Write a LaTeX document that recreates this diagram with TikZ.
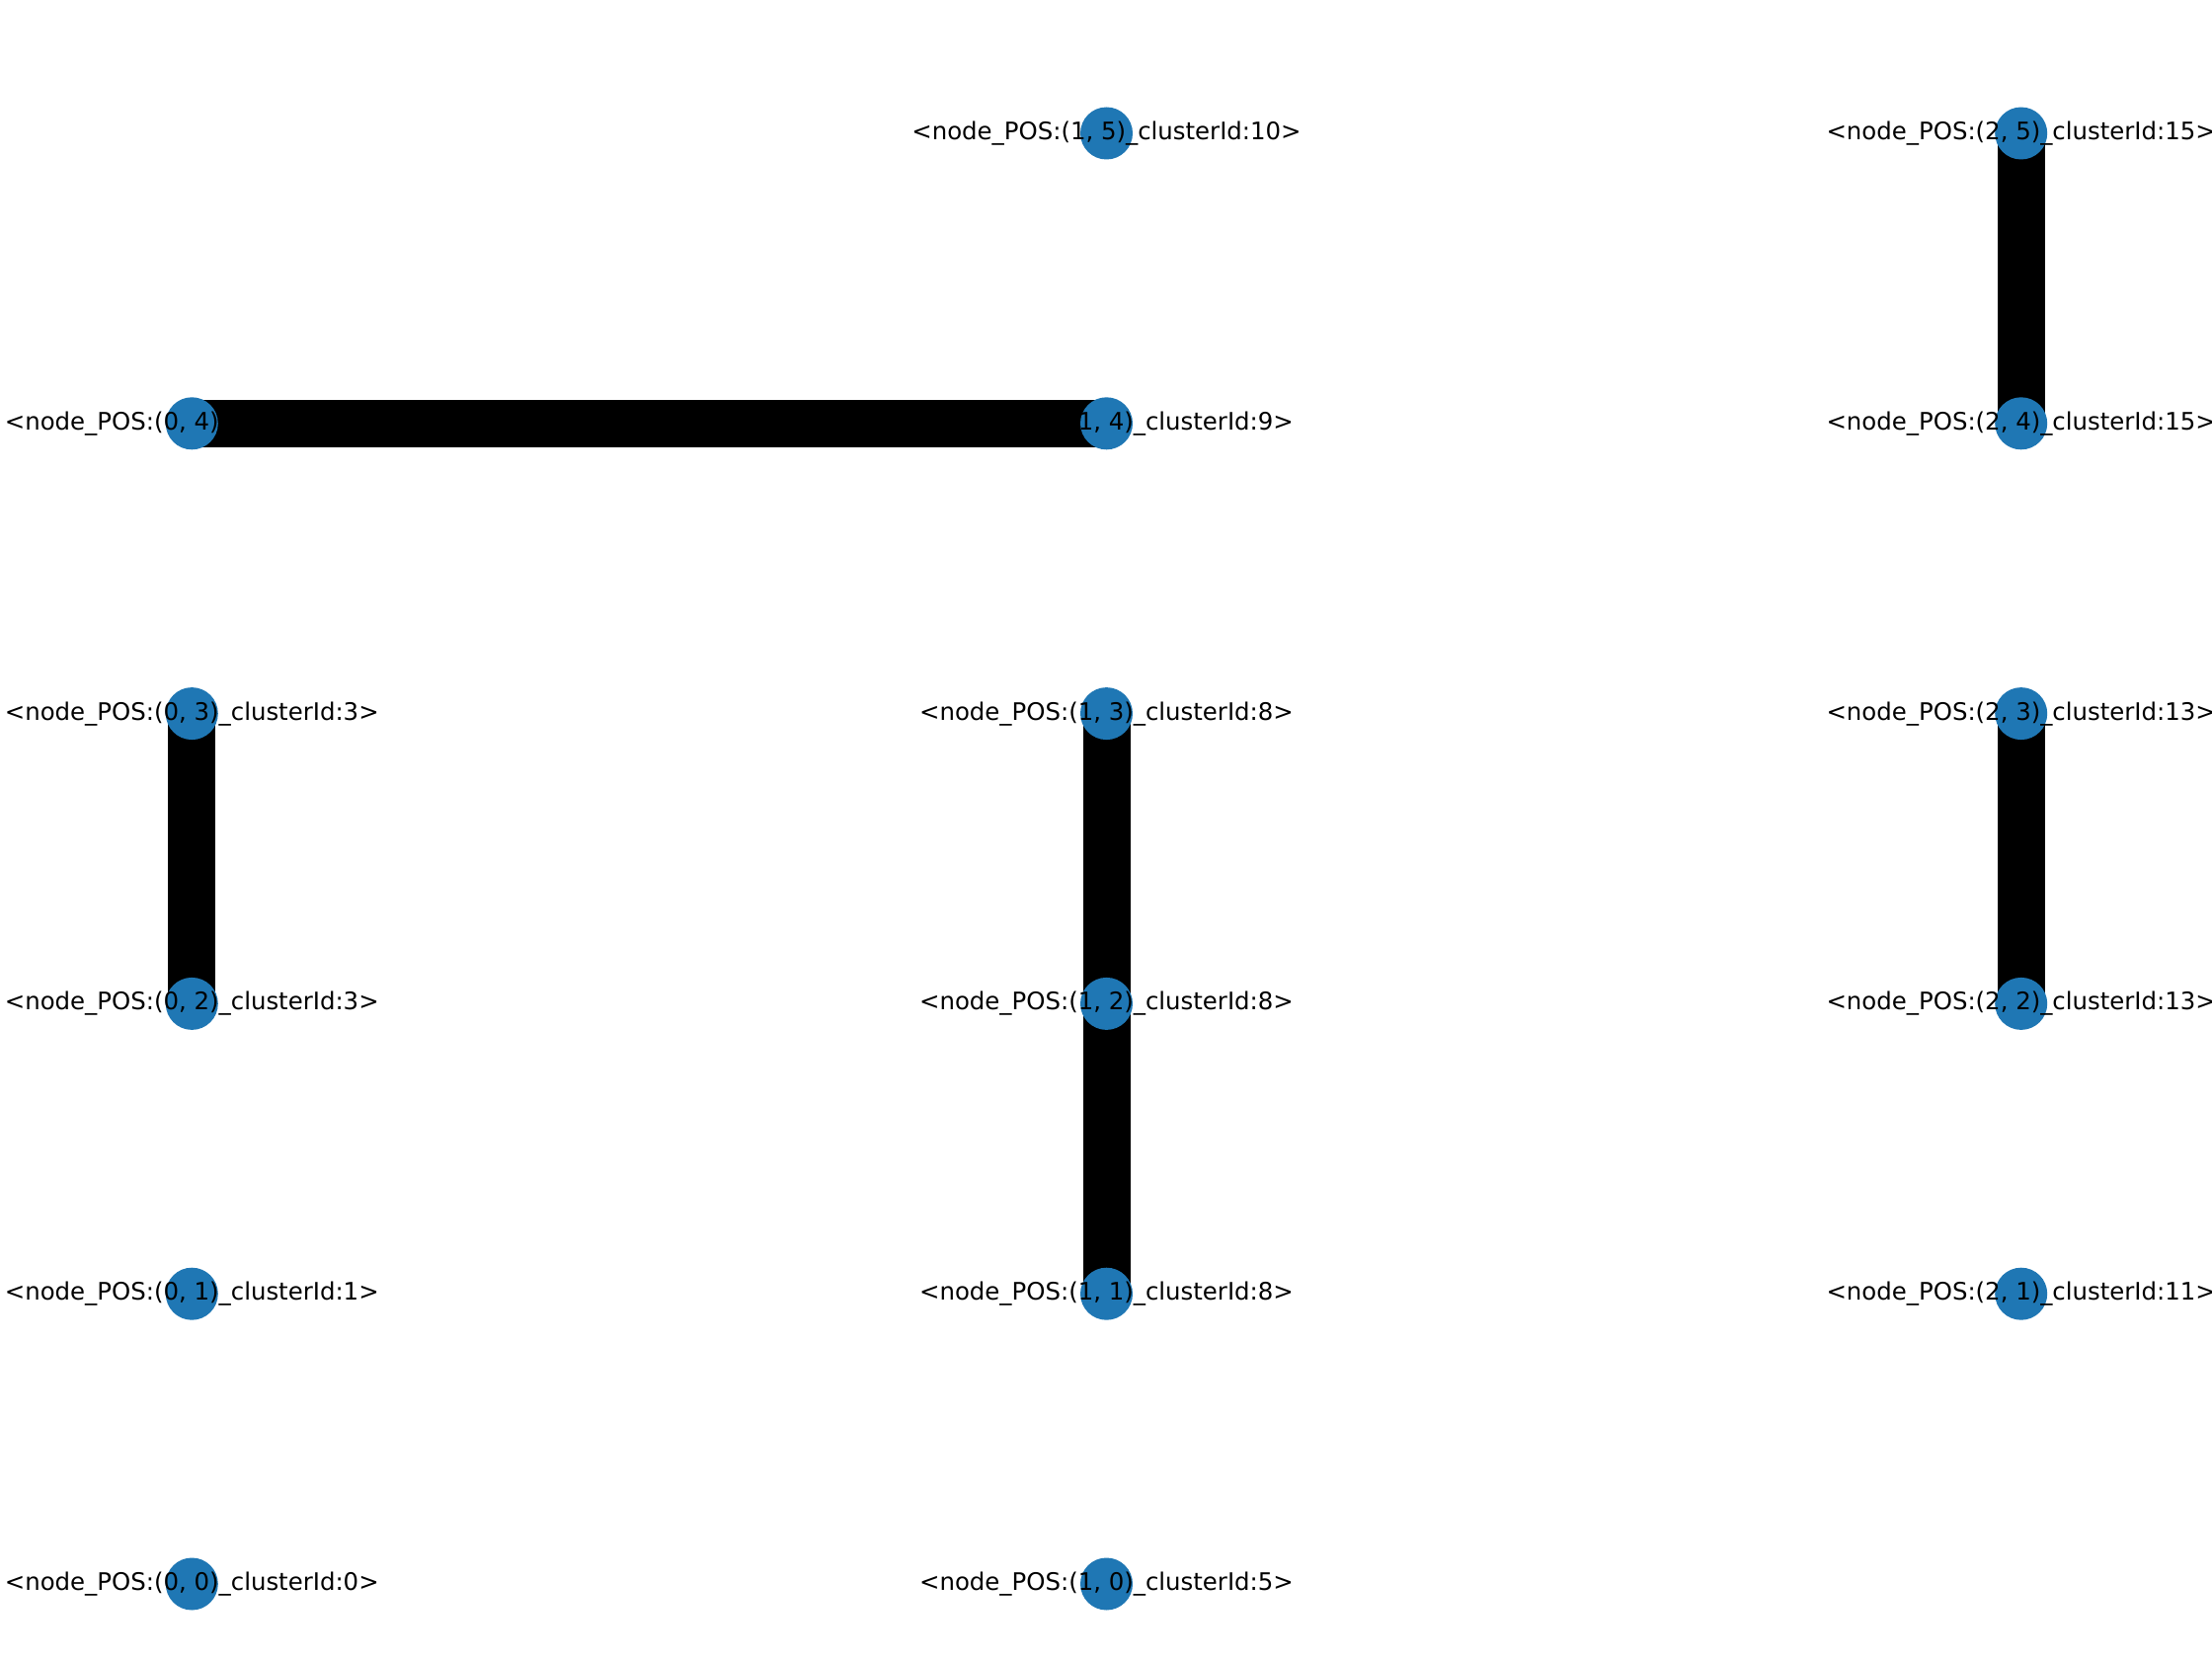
\documentclass[tikz,border=0pt]{standalone}
\usepackage{fontspec}
\setmainfont{DejaVu Sans}
\usetikzlibrary{backgrounds}
\definecolor{nodeblue}{HTML}{1F77B4}
\tikzset{
  gnode/.style={circle, fill=nodeblue, draw=none, inner sep=0pt, minimum size=26.5pt},
  gedge/.style={draw=black, line width=24pt},
  lbl/.style={font=\fontsize{12.2pt}{14pt}\selectfont, text=black, inner sep=0pt, anchor=base}
}
\begin{document}
\begin{tikzpicture}[x=0.5pt, y=-0.5pt]
\useasboundingbox (0,0) rectangle (2240,1680);
% nodes
\node[gnode] (n00) at (194.3,1604.0) {};
\node[gnode] (n01) at (194.3,1310.2) {};
\node[gnode] (n02) at (194.3,1016.4) {};
\node[gnode] (n03) at (194.3,722.6) {};
\node[gnode] (n04) at (194.3,428.8) {};
\node[gnode] (n10) at (1120.5,1604.0) {};
\node[gnode] (n11) at (1120.5,1310.2) {};
\node[gnode] (n12) at (1120.5,1016.4) {};
\node[gnode] (n13) at (1120.5,722.6) {};
\node[gnode] (n14) at (1120.5,428.8) {};
\node[gnode] (n15) at (1120.5,135.0) {};
\node[gnode] (n21) at (2046.7,1310.2) {};
\node[gnode] (n22) at (2046.7,1016.4) {};
\node[gnode] (n23) at (2046.7,722.6) {};
\node[gnode] (n24) at (2046.7,428.8) {};
\node[gnode] (n25) at (2046.7,135.0) {};
% edges behind nodes
\begin{pgfonlayer}{background}
\fill[white] (0,0) rectangle (2240,1680);
\draw[gedge] (n04.center) -- (n14.center);
\draw[gedge] (n25.center) -- (n24.center);
\draw[gedge] (n03.center) -- (n02.center);
\draw[gedge] (n13.center) -- (n12.center);
\draw[gedge] (n12.center) -- (n11.center);
\draw[gedge] (n23.center) -- (n22.center);
\end{pgfonlayer}
% labels
\node[lbl] (l00) at ([yshift=-3.2pt]n00.center) {<node\_POS:(0, 0)\_clusterId:0>};
\node[lbl] (l01) at ([yshift=-3.2pt]n01.center) {<node\_POS:(0, 1)\_clusterId:1>};
\node[lbl] (l02) at ([yshift=-3.2pt]n02.center) {<node\_POS:(0, 2)\_clusterId:3>};
\node[lbl] (l03) at ([yshift=-3.2pt]n03.center) {<node\_POS:(0, 3)\_clusterId:3>};
\node[lbl] (l04) at ([yshift=-3.2pt]n04.center) {<node\_POS:(0, 4)\_clusterId:9>};
\node[lbl] (l10) at ([yshift=-3.2pt]n10.center) {<node\_POS:(1, 0)\_clusterId:5>};
\node[lbl] (l11) at ([yshift=-3.2pt]n11.center) {<node\_POS:(1, 1)\_clusterId:8>};
\node[lbl] (l12) at ([yshift=-3.2pt]n12.center) {<node\_POS:(1, 2)\_clusterId:8>};
\node[lbl] (l13) at ([yshift=-3.2pt]n13.center) {<node\_POS:(1, 3)\_clusterId:8>};
\node[lbl] (l14) at ([yshift=-3.2pt]n14.center) {<node\_POS:(1, 4)\_clusterId:9>};
\node[lbl] (l15) at ([yshift=-3.2pt]n15.center) {<node\_POS:(1, 5)\_clusterId:10>};
\node[lbl] (l21) at ([yshift=-3.2pt]n21.center) {<node\_POS:(2, 1)\_clusterId:11>};
\node[lbl] (l22) at ([yshift=-3.2pt]n22.center) {<node\_POS:(2, 2)\_clusterId:13>};
\node[lbl] (l23) at ([yshift=-3.2pt]n23.center) {<node\_POS:(2, 3)\_clusterId:13>};
\node[lbl] (l24) at ([yshift=-3.2pt]n24.center) {<node\_POS:(2, 4)\_clusterId:15>};
\node[lbl] (l25) at ([yshift=-3.2pt]n25.center) {<node\_POS:(2, 5)\_clusterId:15>};
\end{tikzpicture}
\end{document}
